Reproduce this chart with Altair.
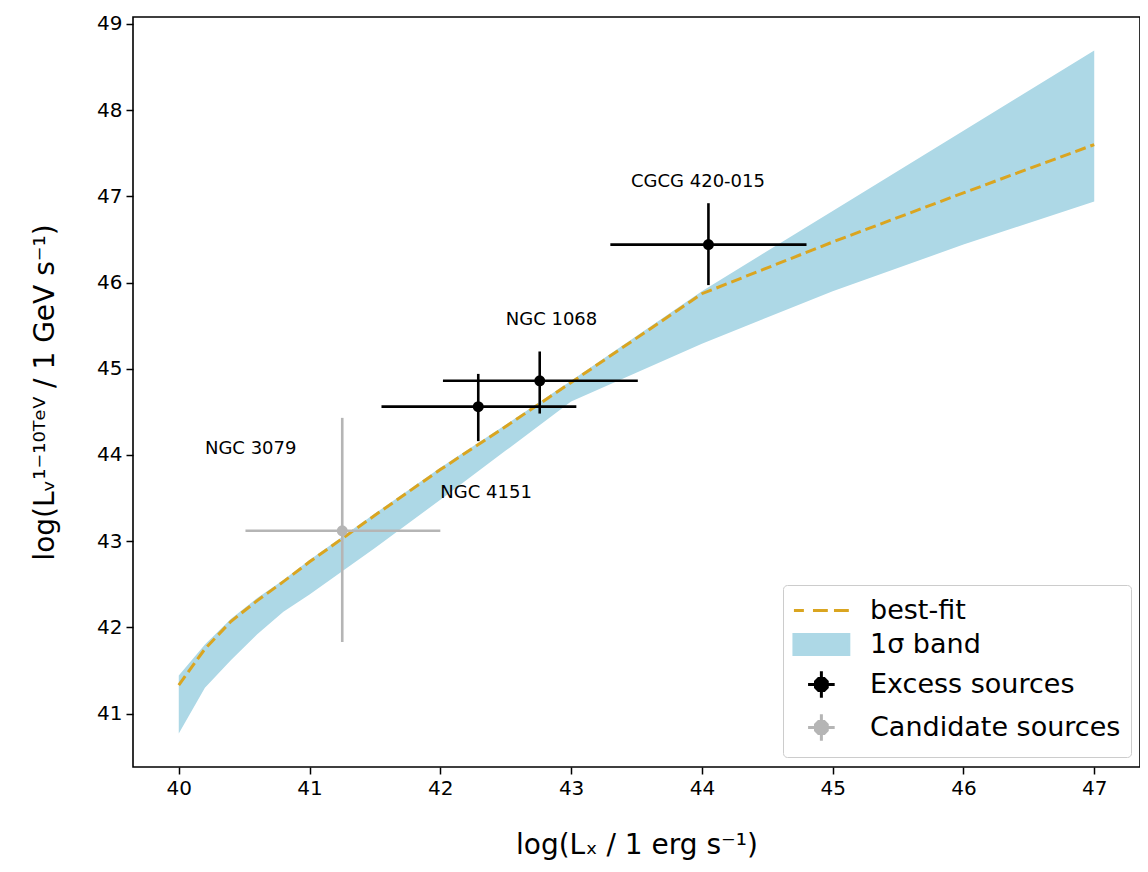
import altair as alt
import pandas as pd

# ---- data ----
band_x = [40.0, 40.2, 40.4, 40.6, 40.8, 41.0, 41.25, 41.5, 42.0, 42.5, 43.0, 44.0, 45.0, 46.0, 47.0]
fit_y = [41.33, 41.75, 42.07, 42.31, 42.53, 42.76, 43.03, 43.30, 43.83, 44.33, 44.84, 45.87, 46.47, 47.04, 47.60]
upper_y = [41.44, 41.80, 42.10, 42.34, 42.55, 42.78, 43.05, 43.32, 43.85, 44.35, 44.86, 45.90, 46.83, 47.76, 48.69]
lower_y = [40.77, 41.30, 41.62, 41.92, 42.18, 42.38, 42.65, 42.92, 43.48, 44.05, 44.62, 45.29, 45.90, 46.44, 46.94]

src_name = ["NGC 3079", "NGC 4151", "NGC 1068", "CGCG 420-015"]
src_group = ["Candidate sources", "Excess sources", "Excess sources", "Excess sources"]
src_x = [41.25, 42.29, 42.76, 44.05]
src_xlo = [40.51, 41.55, 42.02, 43.30]
src_xhi = [42.00, 43.04, 43.51, 44.80]
src_y = [43.12, 44.56, 44.86, 46.44]
src_ylo = [41.83, 44.16, 44.48, 45.97]
src_yhi = [44.43, 44.94, 45.20, 46.92]

lab_text = ["NGC 3079", "NGC 4151", "NGC 1068", "CGCG 420-015"]
lab_x = [40.55, 42.35, 42.85, 43.97]
lab_y = [44.07, 43.56, 45.57, 47.17]

series = ["best-fit", "1\u03c3 band", "Excess sources", "Candidate sources"]

# ---- styling ----
GOLD = "#DAA520"
BAND = "#ADD8E6"
GRAY = "#b5b5b5"
FONT = "DejaVu Sans"
W, H = 1007, 750

band_df = pd.DataFrame({"x": band_x, "fit": fit_y, "lo": lower_y, "hi": upper_y})
src_df = pd.DataFrame({"name": src_name, "group": src_group, "x": src_x, "xlo": src_xlo,
                       "xhi": src_xhi, "y": src_y, "ylo": src_ylo, "yhi": src_yhi})
lab_df = pd.DataFrame({"t": lab_text, "x": lab_x, "y": lab_y})
leg_df = pd.DataFrame({"series": series})

xs = alt.Scale(domain=[39.65, 47.35], nice=False, zero=False)
ys = alt.Scale(domain=[40.38, 49.08], nice=False, zero=False)

xax = alt.Axis(values=list(range(40, 48)), format="d", title="log(L\u2093 / 1 erg s\u207b\u00b9)",
               grid=False, titleFontSize=28, titleFontWeight="normal",
               titleY=78, titleBaseline="middle")
yax = alt.Axis(values=list(range(41, 50)), format="d",
               title="log(L\u1d65\u00b9\u207b\u00b9\u2070\u1d40\u1d49\u2c7d / 1 GeV s\u207b\u00b9)",
               grid=False, titleFontSize=28, titleFontWeight="normal",
               titleX=-88, titleY=H / 2, titleBaseline="middle", titleAlign="center", titleAngle=270)

band = alt.Chart(band_df).mark_area(color=BAND, opacity=1).encode(
    x=alt.X("x:Q", scale=xs, axis=xax),
    y=alt.Y("lo:Q", scale=ys, axis=yax),
    y2="hi:Q",
)
fit = alt.Chart(band_df).mark_line(color=GOLD, strokeWidth=3, strokeDash=[11, 5]).encode(
    x=alt.X("x:Q", scale=xs), y=alt.Y("fit:Q", scale=ys)
)

col = alt.condition(alt.datum.group == "Excess sources", alt.value("black"), alt.value(GRAY))
hbar = alt.Chart(src_df).mark_rule(strokeWidth=2.6).encode(
    x=alt.X("xlo:Q", scale=xs), x2="xhi:Q", y=alt.Y("y:Q", scale=ys), color=col
)
vbar = alt.Chart(src_df).mark_rule(strokeWidth=2.6).encode(
    x=alt.X("x:Q", scale=xs), y=alt.Y("ylo:Q", scale=ys), y2="yhi:Q", color=col
)
pts = alt.Chart(src_df).mark_circle(size=120, opacity=1).encode(
    x=alt.X("x:Q", scale=xs), y=alt.Y("y:Q", scale=ys), color=col
)
labels = alt.Chart(lab_df).mark_text(fontSize=18, font=FONT, color="black", align="center",
                                      baseline="middle").encode(
    x=alt.X("x:Q", scale=xs), y=alt.Y("y:Q", scale=ys), text="t:N"
)

# legend symbols (custom paths, unit = sqrt(size)/2 px)
sh = 0.92
def sx(v):
    return f"{v + sh:.2f}"
dot2 = "M{a},-0.42L{b},-0.42L{c},-0.2L{c},0.2L{b},0.42L{a},0.42L{d},0.2L{d},-0.2Z".format(
    a=sx(-0.2), b=sx(0.2), c=sx(0.42), d=sx(-0.42))
cross = f"M{sx(-0.95)},0H{sx(0.95)}M{sx(0)},-0.95V0.95" + dot2
paths = [
    f"M{sx(-1.96)},0H{sx(-1.25)}M{sx(-0.6)},0H{sx(0.46)}M{sx(0.9)},0H{sx(1.96)}",
    f"M{sx(-1.96)},-0.72H{sx(1.96)}V0.72H{sx(-1.96)}Z",
    cross,
    cross,
]
strokes = [GOLD, BAND, "black", GRAY]
fills = ["transparent", BAND, "black", GRAY]
leg = alt.Legend(title=None, orient="none", legendX=650, legendY=568, symbolSize=784,
                 symbolStrokeWidth=3, labelFontSize=27, labelFont=FONT, labelOffset=46,
                 labelLimit=400, padding=10, rowPadding=4, strokeColor="#cccccc",
                 fillColor="white", cornerRadius=4, labelColor="black")
legend_layer = alt.Chart(leg_df).mark_point(opacity=1, strokeWidth=3).encode(
    x=alt.value(0), y=alt.value(0),
    shape=alt.Shape("series:N", scale=alt.Scale(domain=series, range=paths), legend=leg),
    stroke=alt.Stroke("series:N", scale=alt.Scale(domain=series, range=strokes), legend=leg),
    fill=alt.Fill("series:N", scale=alt.Scale(domain=series, range=fills), legend=leg),
).transform_filter("false")

chart = alt.layer(band, fit, hbar, vbar, pts, labels, legend_layer).properties(
    width=W, height=H,
    autosize=alt.AutoSizeParams(type="none"),
    padding={"left": 125, "top": 9, "right": 0, "bottom": 95},
).configure_view(stroke="black", strokeWidth=1.6).configure_axis(
    domain=False, tickColor="black", tickSize=7, tickWidth=1.5, labelFontSize=20,
    labelFont=FONT, titleFont=FONT, labelColor="black", titleColor="black", labelPadding=4
)

chart.save("out.html", embed_options={"renderer": "svg", "actions": False})
